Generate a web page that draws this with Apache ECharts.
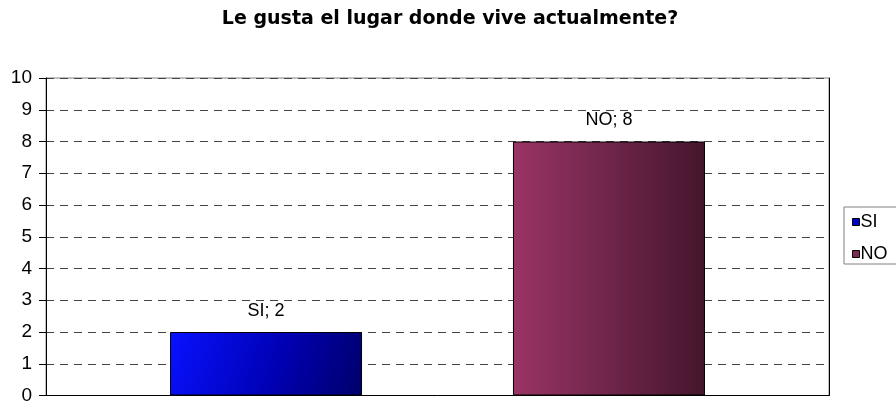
<!DOCTYPE html>
<html>
<head>
<meta charset="utf-8">
<script src="https://cdn.jsdelivr.net/npm/echarts@6/dist/echarts.min.js"></script>
<style>
  html, body { margin: 0; padding: 0; background: #fff; }
  #chart { width: 896px; height: 405px; }
</style>
</head>
<body>
<div id="chart"></div>
<script>
// datos del gráfico
const title = 'Le gusta el lugar donde vive actualmente?'
const categories = ['']
const seriesNames = ['SI', 'NO']
const seriesValues = [[2], [8]]
const yTicks = { min: 0, max: 10, interval: 1 }

const font = 'Liberation Sans, Arial, sans-serif'
const titleFont = 'DejaVu Sans, Verdana, sans-serif'

// relleno degradado de cada barra
const fills = [
  new echarts.graphic.LinearGradient(0, 0, 1, 1, [
    { offset: 0, color: '#0812ff' },
    { offset: 0.55, color: '#0000b4' },
    { offset: 1, color: '#00006a' }
  ]),
  new echarts.graphic.LinearGradient(0, 0, 1, 0, [
    { offset: 0, color: '#9a3466' },
    { offset: 1, color: '#44162c' }
  ])
]
const legendColors = ['#0000cc', '#7f2a55']

const series = seriesNames.map((name, i) => ({
  name: name,
  type: 'bar',
  data: seriesValues[i],
  barWidth: 192,
  barGap: '78.6%',
  itemStyle: { color: fills[i], borderColor: '#000', borderWidth: 1 },
  label: {
    show: true,
    position: 'top',
    distance: 12,
    color: '#000',
    fontFamily: font,
    fontSize: 18,
    formatter: p => p.seriesName + '; ' + p.value
  }
}))

const chart = echarts.init(document.getElementById('chart'))
chart.setOption({
  animation: false,
  title: {
    text: title,
    left: 450,
    textAlign: 'center',
    top: 10,
    padding: 0,
    textStyle: { fontFamily: titleFont, fontSize: 19, fontWeight: 'bold', color: '#000' }
  },
  grid: { left: 46, right: 67, top: 78, bottom: 5, show: true, borderColor: '#808080', borderWidth: 1 },
  legend: {
    orient: 'vertical',
    left: 844,
    top: 207,
    padding: [6, 40, 1, 8],
    itemGap: 14,
    itemWidth: 7,
    itemHeight: 7,
    borderColor: '#808080',
    borderWidth: 1,
    icon: 'rect',
    data: seriesNames.map((n, i) => ({
      name: n,
      itemStyle: { color: legendColors[i], borderColor: '#000', borderWidth: 1 }
    })),
    textStyle: { fontFamily: font, fontSize: 18, color: '#000', padding: [0, 0, 0, -4] }
  },
  xAxis: {
    type: 'category',
    data: categories,
    axisLine: { lineStyle: { color: '#000', width: 1 } },
    axisTick: { show: false },
    axisLabel: { show: false }
  },
  yAxis: [{
    type: 'value',
    min: yTicks.min,
    max: yTicks.max,
    interval: yTicks.interval,
    axisLine: { show: true, lineStyle: { color: '#000', width: 1 } },
    axisTick: { show: true, length: 7, lineStyle: { color: '#000' } },
    axisLabel: { color: '#000', fontFamily: font, fontSize: 19, margin: 14 },
    splitLine: { show: true, lineStyle: { color: '#444', type: [8, 6], width: 1 } }
  }, {
    type: 'value',
    position: 'right',
    min: yTicks.min,
    max: yTicks.max,
    interval: yTicks.interval,
    axisLine: { show: true, lineStyle: { color: '#000', width: 1 } },
    axisTick: { show: false },
    axisLabel: { show: false },
    splitLine: { show: false }
  }],
  series: series
})
</script>
</body>
</html>
